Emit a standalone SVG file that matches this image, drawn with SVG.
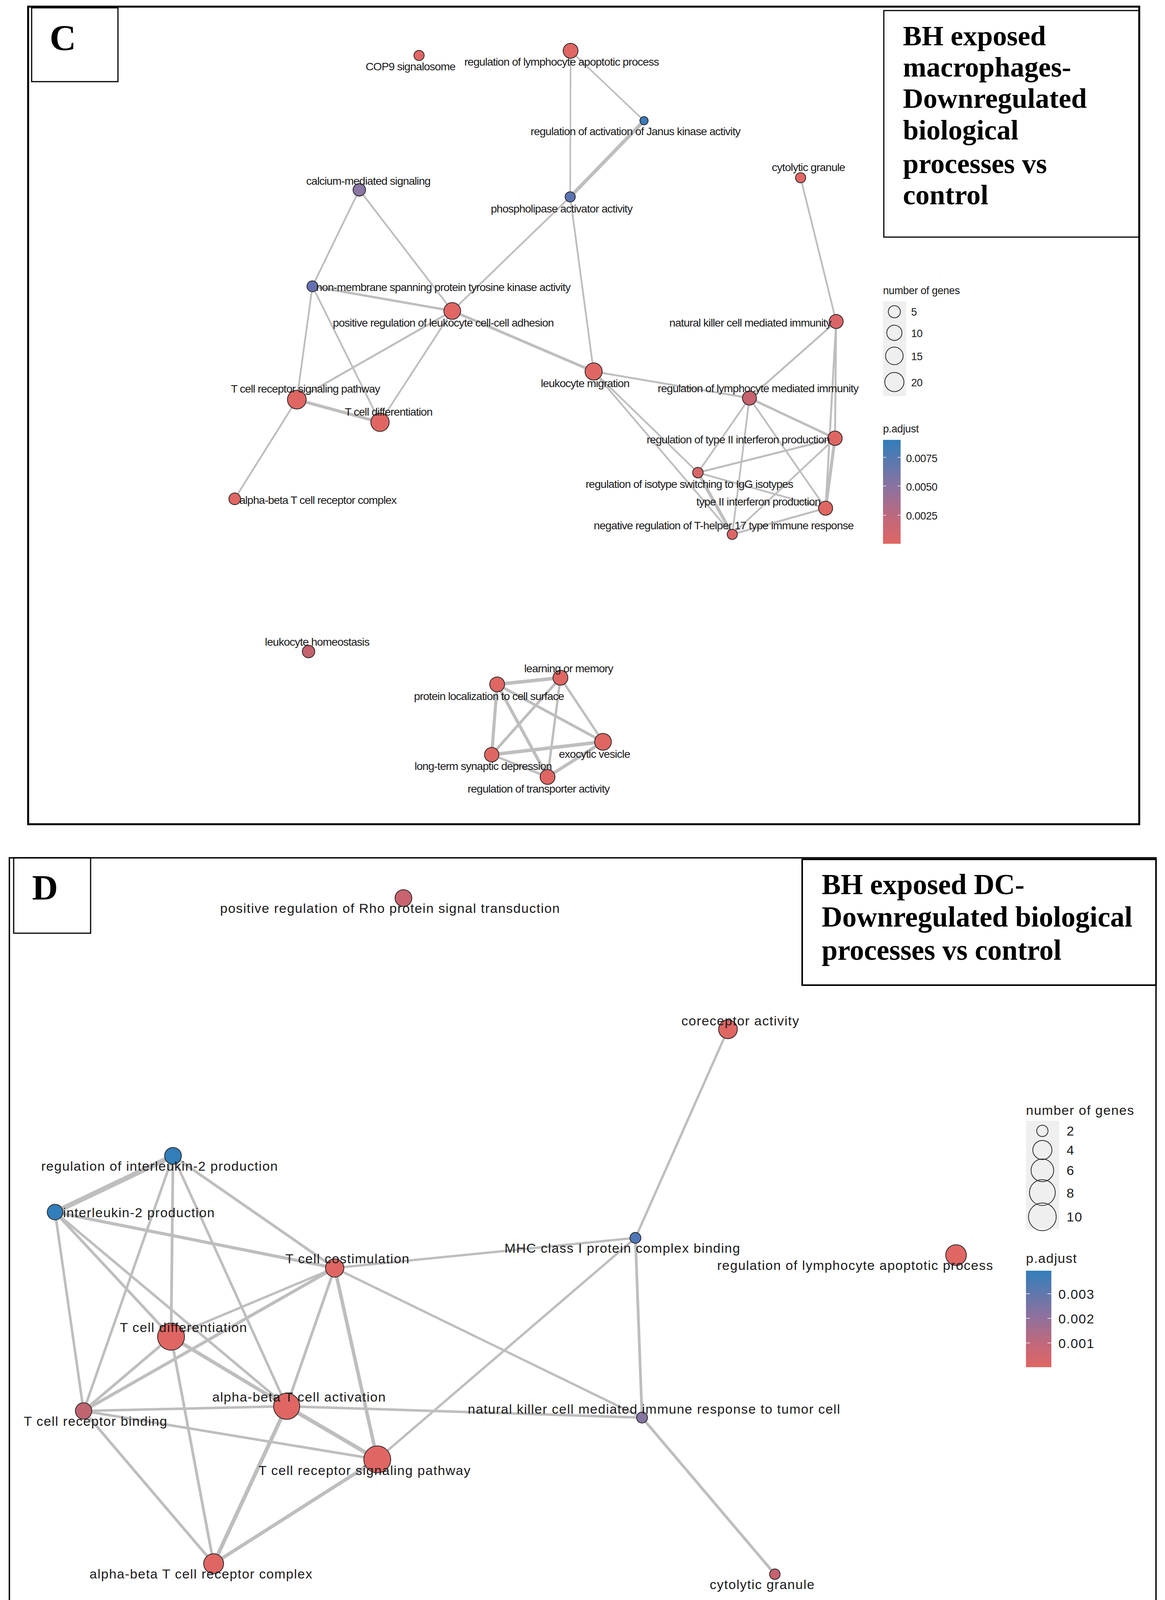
<svg xmlns="http://www.w3.org/2000/svg" width="2983" height="4161" viewBox="0 0 2983 4161">
<style>
.bg{fill:#ffffff}
.frame{fill:none;stroke:#000;}
.e{stroke:#bebebe;fill:none;stroke-linecap:round}
.n{stroke:#262626;stroke-width:2}
.r{fill:#e06663}
.b{fill:#327eba}
.lc{font-family:"Liberation Sans",Arial,sans-serif;font-size:28.5px;letter-spacing:-1px;fill:#1a1a1a;text-anchor:middle}
.ld{font-family:"Liberation Sans",Arial,sans-serif;font-size:34px;letter-spacing:1.5px;fill:#1a1a1a;text-anchor:middle}
.gc{font-family:"Liberation Sans",Arial,sans-serif;font-size:27px;letter-spacing:-0.4px;fill:#1a1a1a}
.gd{font-family:"Liberation Sans",Arial,sans-serif;font-size:34px;letter-spacing:1.5px;fill:#1a1a1a}
.key{fill:none;stroke:#2a2a2a;stroke-width:2}
.keybg{fill:#efefef}
.tick{stroke:#ffffff;stroke-width:2;opacity:0.7}
.title{font-family:"Liberation Serif","Times New Roman",serif;font-weight:bold;fill:#000}
</style>
<defs>
<linearGradient id="pgrad" x1="0" y1="0" x2="0" y2="1">
<stop offset="0" stop-color="#327eba"/>
<stop offset="0.45" stop-color="#8a72a0"/>
<stop offset="0.75" stop-color="#c0687c"/>
<stop offset="1" stop-color="#e06663"/>
</linearGradient>
</defs>
<rect class="bg" x="0" y="0" width="2983" height="4161"/>

<!-- ================= PANEL C ================= -->
<g id="panelC-frame">
<rect class="frame" x="72" y="17" width="2845" height="2093" stroke-width="5"/>
<rect class="frame" x="81" y="20" width="221" height="189" stroke-width="3"/>
<text class="title" x="127" y="128" font-size="94">C</text>
<rect class="frame" x="2263" y="27" width="654" height="580" stroke-width="3"/>
<text class="title" font-size="72"><tspan x="2312" y="116">BH exposed</tspan><tspan x="2312" y="196">macrophages-</tspan><tspan x="2312" y="276">Downregulated</tspan><tspan x="2312" y="357">biological</tspan><tspan x="2312" y="443">processes vs</tspan><tspan x="2312" y="523">control</tspan></text>
</g>

<g id="connectorsC">
<line class="e" x1="1461" y1="130" x2="1460" y2="504" stroke-width="4"/>
<line class="e" x1="1461" y1="130" x2="1649" y2="309" stroke-width="4"/>
<line class="e" x1="1649" y1="309" x2="1460" y2="504" stroke-width="9"/>
<line class="e" x1="1460" y1="504" x2="1158" y2="796" stroke-width="4.5"/>
<line class="e" x1="1460" y1="504" x2="1520" y2="951" stroke-width="4.5"/>
<line class="e" x1="920" y1="486" x2="800" y2="733" stroke-width="4.5"/>
<line class="e" x1="920" y1="486" x2="1158" y2="796" stroke-width="4.5"/>
<line class="e" x1="800" y1="733" x2="1158" y2="796" stroke-width="6"/>
<line class="e" x1="800" y1="733" x2="760" y2="1023" stroke-width="4.5"/>
<line class="e" x1="800" y1="733" x2="973" y2="1081" stroke-width="4.5"/>
<line class="e" x1="1158" y1="796" x2="760" y2="1023" stroke-width="5"/>
<line class="e" x1="1158" y1="796" x2="973" y2="1081" stroke-width="4.5"/>
<line class="e" x1="1158" y1="796" x2="1520" y2="951" stroke-width="7"/>
<line class="e" x1="760" y1="1023" x2="973" y2="1081" stroke-width="8"/>
<line class="e" x1="760" y1="1023" x2="601" y2="1277" stroke-width="4.5"/>
<line class="e" x1="2050" y1="455" x2="2141" y2="823" stroke-width="4.5"/>
<line class="e" x1="2141" y1="823" x2="1919" y2="1019" stroke-width="5"/>
<line class="e" x1="2141" y1="823" x2="2138" y2="1122" stroke-width="5"/>
<line class="e" x1="2141" y1="823" x2="2114" y2="1301" stroke-width="5"/>
<line class="e" x1="2138" y1="1122" x2="2114" y2="1301" stroke-width="8"/>
<line class="e" x1="1520" y1="951" x2="1919" y2="1019" stroke-width="5"/>
<line class="e" x1="1520" y1="951" x2="1787" y2="1210" stroke-width="4.5"/>
<line class="e" x1="1520" y1="951" x2="1875" y2="1368" stroke-width="4.5"/>
<line class="e" x1="1919" y1="1019" x2="2138" y2="1122" stroke-width="6"/>
<line class="e" x1="1919" y1="1019" x2="1787" y2="1210" stroke-width="4.5"/>
<line class="e" x1="1919" y1="1019" x2="1875" y2="1368" stroke-width="4.5"/>
<line class="e" x1="1919" y1="1019" x2="2114" y2="1301" stroke-width="4.5"/>
<line class="e" x1="2138" y1="1122" x2="1787" y2="1210" stroke-width="5"/>
<line class="e" x1="2138" y1="1122" x2="1875" y2="1368" stroke-width="4.5"/>
<line class="e" x1="1787" y1="1210" x2="1875" y2="1368" stroke-width="8"/>
<line class="e" x1="1787" y1="1210" x2="2114" y2="1301" stroke-width="4.5"/>
<line class="e" x1="2114" y1="1301" x2="1875" y2="1368" stroke-width="5"/>
<line class="e" x1="1273" y1="1752" x2="1435" y2="1735" stroke-width="9"/>
<line class="e" x1="1273" y1="1752" x2="1259" y2="1932" stroke-width="8"/>
<line class="e" x1="1273" y1="1752" x2="1544" y2="1899" stroke-width="7"/>
<line class="e" x1="1273" y1="1752" x2="1402" y2="1989" stroke-width="8"/>
<line class="e" x1="1435" y1="1735" x2="1259" y2="1932" stroke-width="7"/>
<line class="e" x1="1435" y1="1735" x2="1402" y2="1989" stroke-width="6"/>
<line class="e" x1="1435" y1="1735" x2="1544" y2="1899" stroke-width="6"/>
<line class="e" x1="1259" y1="1932" x2="1544" y2="1899" stroke-width="9"/>
<line class="e" x1="1259" y1="1932" x2="1402" y2="1989" stroke-width="6"/>
<line class="e" x1="1544" y1="1899" x2="1402" y2="1989" stroke-width="8"/>
</g>

<g id="nodesC">
<g id="c-cop9"><circle class="n r" cx="1073" cy="142" r="13"/><text class="lc" x="1051" y="180">COP9 signalosome</text></g>
<g id="c-reg-lymph-apoptotic"><circle class="n r" cx="1461" cy="130" r="19"/><text class="lc" x="1438" y="168">regulation of lymphocyte apoptotic process</text></g>
<g id="c-janus"><circle class="n" cx="1649" cy="309" r="10.5" fill="#3b7bbc"/><text class="lc" x="1627" y="346">regulation of activation of Janus kinase activity</text></g>
<g id="c-phospholipase"><circle class="n" cx="1460" cy="504" r="13" fill="#5b73b3"/><text class="lc" x="1438" y="544">phospholipase activator activity</text></g>
<g id="c-calcium"><circle class="n" cx="920" cy="486" r="16" fill="#8a77a3"/><text class="lc" x="943" y="473">calcium-mediated signaling</text></g>
<g id="c-nonmembrane"><circle class="n" cx="800" cy="733" r="14" fill="#6570b0"/><text class="lc" x="1135" y="745">non-membrane spanning protein tyrosine kinase activity</text></g>
<g id="c-pos-reg-adhesion"><circle class="n r" cx="1158" cy="796" r="21.5"/><text class="lc" x="1135" y="836">positive regulation of leukocyte cell-cell adhesion</text></g>
<g id="c-leuk-migration"><circle class="n r" cx="1520" cy="951" r="22"/><text class="lc" x="1498" y="991">leukocyte migration</text></g>
<g id="c-tcr-signaling"><circle class="n r" cx="760" cy="1023" r="24"/><text class="lc" x="782" y="1005">T cell receptor signaling pathway</text></g>
<g id="c-tcell-diff"><circle class="n r" cx="973" cy="1081" r="23.5"/><text class="lc" x="995" y="1064">T cell differentiation</text></g>
<g id="c-ab-complex"><circle class="n r" cx="601" cy="1277" r="15"/><text class="lc" x="814" y="1290">alpha-beta T cell receptor complex</text></g>
<g id="c-homeostasis"><circle class="n" cx="790" cy="1668" r="16" fill="#c4626e"/><text class="lc" x="812" y="1653">leukocyte homeostasis</text></g>
<g id="c-learning"><circle class="n r" cx="1435" cy="1735" r="19"/><text class="lc" x="1456" y="1721">learning or memory</text></g>
<g id="c-protein-loc"><circle class="n r" cx="1273" cy="1752" r="19"/><text class="lc" x="1252" y="1792">protein localization to cell surface</text></g>
<g id="c-exocytic"><circle class="n r" cx="1544" cy="1899" r="21.5"/><text class="lc" x="1522" y="1940">exocytic vesicle</text></g>
<g id="c-ltd"><circle class="n r" cx="1259" cy="1932" r="18.5"/><text class="lc" x="1237" y="1971">long-term synaptic depression</text></g>
<g id="c-transporter"><circle class="n r" cx="1402" cy="1989" r="19"/><text class="lc" x="1379" y="2029">regulation of transporter activity</text></g>
<g id="c-cytolytic"><circle class="n r" cx="2050" cy="455" r="13"/><text class="lc" x="2070" y="438">cytolytic granule</text></g>
<g id="c-nk-immunity"><circle class="n" cx="2141" cy="823" r="18" fill="#da6568"/><text class="lc" x="1921" y="836">natural killer cell mediated immunity</text></g>
<g id="c-reg-lymph-mediated"><circle class="n" cx="1919" cy="1019" r="18" fill="#c7636f"/><text class="lc" x="1941" y="1004">regulation of lymphocyte mediated immunity</text></g>
<g id="c-reg-ifn"><circle class="n r" cx="2138" cy="1122" r="18.5"/><text class="lc" x="1890" y="1135">regulation of type II interferon production</text></g>
<g id="c-isotype"><circle class="n" cx="1787" cy="1210" r="13.5" fill="#d96568"/><text class="lc" x="1765" y="1249">regulation of isotype switching to IgG isotypes</text></g>
<g id="c-ifn"><circle class="n r" cx="2114" cy="1301" r="18"/><text class="lc" x="1942" y="1294">type II interferon production</text></g>
<g id="c-th17"><circle class="n" cx="1875" cy="1368" r="13" fill="#dd6567"/><text class="lc" x="1853" y="1355">negative regulation of T-helper 17 type immune response</text></g>
</g>

<g id="legendC">
<text class="gc" x="2261" y="753">number of genes</text>
<rect class="keybg" x="2261" y="771" width="59" height="243"/>
<circle class="key" cx="2290" cy="798" r="15.5"/>
<circle class="key" cx="2290" cy="852" r="19.5"/>
<circle class="key" cx="2290" cy="911" r="22.5"/>
<circle class="key" cx="2290" cy="978" r="24.5"/>
<text class="gc" x="2333" y="808">5</text>
<text class="gc" x="2333" y="863">10</text>
<text class="gc" x="2333" y="922">15</text>
<text class="gc" x="2333" y="989">20</text>
<text class="gc" x="2261" y="1107">p.adjust</text>
<rect x="2261" y="1126" width="45" height="266" fill="url(#pgrad)"/>
<line class="tick" x1="2261" y1="1171" x2="2269" y2="1171"/><line class="tick" x1="2298" y1="1171" x2="2306" y2="1171"/>
<line class="tick" x1="2261" y1="1244" x2="2269" y2="1244"/><line class="tick" x1="2298" y1="1244" x2="2306" y2="1244"/>
<line class="tick" x1="2261" y1="1319" x2="2269" y2="1319"/><line class="tick" x1="2298" y1="1319" x2="2306" y2="1319"/>
<text class="gc" x="2320" y="1183">0.0075</text>
<text class="gc" x="2320" y="1256">0.0050</text>
<text class="gc" x="2320" y="1330">0.0025</text>
</g>

<!-- ================= PANEL D ================= -->
<g id="panelD-frame">
<rect class="frame" x="24" y="2196" width="2936" height="1946" stroke-width="3.5"/>
<rect class="frame" x="35" y="2196" width="197" height="193" stroke-width="3"/>
<text class="title" x="82" y="2303" font-size="92">D</text>
<rect class="frame" x="2054" y="2200" width="906" height="322" stroke-width="4"/>
<text class="title" font-size="73"><tspan x="2104" y="2289">BH exposed DC-</tspan><tspan x="2104" y="2372">Downregulated biological</tspan><tspan x="2104" y="2457">processes vs control</tspan></text>
</g>

<g id="connectorsD">
<line class="e" x1="443" y1="2959" x2="141" y2="3103" stroke-width="13"/>
<line class="e" x1="443" y1="2959" x2="438" y2="3422" stroke-width="7"/>
<line class="e" x1="443" y1="2959" x2="214" y2="3612" stroke-width="6.5"/>
<line class="e" x1="443" y1="2959" x2="734" y2="3600" stroke-width="6.5"/>
<line class="e" x1="443" y1="2959" x2="857" y2="3246" stroke-width="7"/>
<line class="e" x1="141" y1="3103" x2="857" y2="3246" stroke-width="8"/>
<line class="e" x1="141" y1="3103" x2="214" y2="3612" stroke-width="6.5"/>
<line class="e" x1="141" y1="3103" x2="438" y2="3422" stroke-width="7"/>
<line class="e" x1="141" y1="3103" x2="734" y2="3600" stroke-width="6.5"/>
<line class="e" x1="857" y1="3246" x2="438" y2="3422" stroke-width="6"/>
<line class="e" x1="857" y1="3246" x2="214" y2="3612" stroke-width="8"/>
<line class="e" x1="857" y1="3246" x2="734" y2="3600" stroke-width="7"/>
<line class="e" x1="857" y1="3246" x2="966" y2="3736" stroke-width="9"/>
<line class="e" x1="857" y1="3246" x2="1627" y2="3169" stroke-width="6"/>
<line class="e" x1="857" y1="3246" x2="1644" y2="3629" stroke-width="6"/>
<line class="e" x1="438" y1="3422" x2="214" y2="3612" stroke-width="7"/>
<line class="e" x1="438" y1="3422" x2="734" y2="3600" stroke-width="9"/>
<line class="e" x1="438" y1="3422" x2="547" y2="4003" stroke-width="7"/>
<line class="e" x1="214" y1="3612" x2="734" y2="3600" stroke-width="6.5"/>
<line class="e" x1="214" y1="3612" x2="966" y2="3736" stroke-width="6.5"/>
<line class="e" x1="214" y1="3612" x2="547" y2="4003" stroke-width="7"/>
<line class="e" x1="734" y1="3600" x2="966" y2="3736" stroke-width="10"/>
<line class="e" x1="734" y1="3600" x2="547" y2="4003" stroke-width="10"/>
<line class="e" x1="734" y1="3600" x2="1644" y2="3629" stroke-width="6.5"/>
<line class="e" x1="966" y1="3736" x2="547" y2="4003" stroke-width="9"/>
<line class="e" x1="966" y1="3736" x2="1627" y2="3169" stroke-width="6"/>
<line class="e" x1="1627" y1="3169" x2="1864" y2="2635" stroke-width="6"/>
<line class="e" x1="1627" y1="3169" x2="1644" y2="3629" stroke-width="7"/>
<line class="e" x1="1644" y1="3629" x2="1984" y2="4030" stroke-width="7"/>
</g>

<g id="nodesD">
<g id="d-rho"><circle class="n" cx="1033" cy="2299" r="21.5" fill="#c9636f"/><text class="ld" x="999" y="2337">positive regulation of Rho protein signal transduction</text></g>
<g id="d-reg-il2"><circle class="n b" cx="443" cy="2959" r="21.5"/><text class="ld" x="409" y="2997">regulation of interleukin-2 production</text></g>
<g id="d-il2"><circle class="n b" cx="141" cy="3103" r="20"/><text class="ld" x="356" y="3116">interleukin-2 production</text></g>
<g id="d-costim"><circle class="n r" cx="857" cy="3246" r="23.5"/><text class="ld" x="890" y="3234">T cell costimulation</text></g>
<g id="d-tdiff"><circle class="n r" cx="438" cy="3422" r="34.5"/><text class="ld" x="470" y="3410">T cell differentiation</text></g>
<g id="d-abact"><circle class="n r" cx="734" cy="3600" r="33.5"/><text class="ld" x="766" y="3588">alpha-beta T cell activation</text></g>
<g id="d-tcrbind"><circle class="n" cx="214" cy="3612" r="21" fill="#c0646f"/><text class="ld" x="245" y="3650">T cell receptor binding</text></g>
<g id="d-tcrsig"><circle class="n r" cx="966" cy="3736" r="34.5"/><text class="ld" x="934" y="3776">T cell receptor signaling pathway</text></g>
<g id="d-abcomplex"><circle class="n r" cx="547" cy="4003" r="25.5"/><text class="ld" x="515" y="4041">alpha-beta T cell receptor complex</text></g>
<g id="d-coreceptor"><circle class="n r" cx="1864" cy="2635" r="24"/><text class="ld" x="1896" y="2625">coreceptor activity</text></g>
<g id="d-mhc"><circle class="n" cx="1627" cy="3169" r="14" fill="#4f76b6"/><text class="ld" x="1594" y="3207">MHC class I protein complex binding</text></g>
<g id="d-reg-lymph-apoptotic"><circle class="n r" cx="2448" cy="3213" r="26.5"/><text class="ld" x="2190" y="3251">regulation of lymphocyte apoptotic process</text></g>
<g id="d-nk-tumor"><circle class="n" cx="1644" cy="3629" r="14" fill="#8474a1"/><text class="ld" x="1675" y="3619">natural killer cell mediated immune response to tumor cell</text></g>
<g id="d-cytolytic"><circle class="n" cx="1984" cy="4030" r="13.5" fill="#c7626f"/><text class="ld" x="1952" y="4068">cytolytic granule</text></g>
</g>

<g id="legendD">
<text class="gd" x="2627" y="2854">number of genes</text>
<rect class="keybg" x="2627" y="2869" width="85" height="277"/>
<circle class="key" cx="2669" cy="2895" r="14.5"/>
<circle class="key" cx="2669" cy="2944" r="24.5"/>
<circle class="key" cx="2669" cy="2996" r="29"/>
<circle class="key" cx="2669" cy="3053" r="33"/>
<circle class="key" cx="2669" cy="3115" r="35.5"/>
<text class="gd" x="2731" y="2907">2</text>
<text class="gd" x="2731" y="2956">4</text>
<text class="gd" x="2731" y="3008">6</text>
<text class="gd" x="2731" y="3066">8</text>
<text class="gd" x="2731" y="3127">10</text>
<text class="gd" x="2627" y="3233">p.adjust</text>
<rect x="2627" y="3253" width="65" height="247" fill="url(#pgrad)"/>
<line class="tick" x1="2627" y1="3312" x2="2637" y2="3312"/><line class="tick" x1="2682" y1="3312" x2="2692" y2="3312"/>
<line class="tick" x1="2627" y1="3375" x2="2637" y2="3375"/><line class="tick" x1="2682" y1="3375" x2="2692" y2="3375"/>
<line class="tick" x1="2627" y1="3438" x2="2637" y2="3438"/><line class="tick" x1="2682" y1="3438" x2="2692" y2="3438"/>
<text class="gd" x="2710" y="3325">0.003</text>
<text class="gd" x="2710" y="3388">0.002</text>
<text class="gd" x="2710" y="3451">0.001</text>
</g>
</svg>
